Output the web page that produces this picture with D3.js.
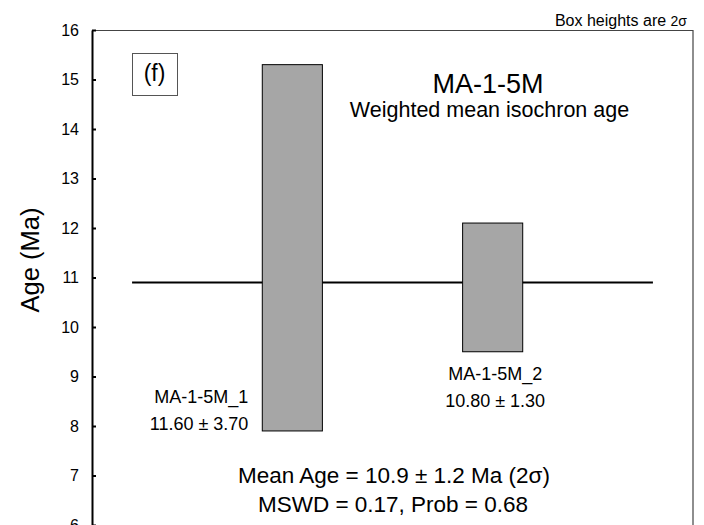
<!DOCTYPE html>
<html>
<head>
<meta charset="utf-8">
<script src="https://cdn.jsdelivr.net/npm/d3@7"></script>
<style>
  body { margin: 0; background: #fff; }
  text { font-family: Arial, "Liberation Sans", sans-serif; fill: #000; }
</style>
</head>
<body>
<div id="chart"></div>
<script>
// Data
var samples = ["MA-1-5M_1", "MA-1-5M_2"];
var ages = [11.60, 10.80];
var errors = [3.70, 1.30];      // 2 sigma, box half heights
var meanAge = 10.9;
var meanErr = 1.2;
var mswd = 0.17;
var prob = 0.68;
var yTicks = [6, 7, 8, 9, 10, 11, 12, 13, 14, 15, 16];

var svgWidth = 704;
var svgHeight = 525;

var margin = {
    top: 30,
    right: 11,
    bottom: 0,
    left: 92
};

var width = svgWidth - margin.left - margin.right;
var height = svgHeight - margin.top - margin.bottom;

var svg = d3.select("#chart")
  .append("svg")
  .attr("width", svgWidth)
  .attr("height", svgHeight);

var chartGroup = svg.append("g")
  .attr("transform", `translate(${margin.left}, ${margin.top})`);

// scales: boxes sit at x = 1, 2 on a 0..3 axis
var xScale = d3.scaleLinear().domain([0, 3]).range([0, width]);
var yScale = d3.scaleLinear().domain([6, 16]).range([height, 0]);
var boxW = xScale(0.3) - xScale(0);

// frame top + right
chartGroup.append("path")
  .attr("d", `M0,0.5H${width}V${height}`)
  .attr("fill", "none")
  .attr("stroke", "#444")
  .attr("stroke-width", 1.2);

// weighted mean line (drawn under the boxes)
chartGroup.append("line")
  .attr("x1", xScale(0.2))
  .attr("x2", xScale(2.8))
  .attr("y1", yScale(meanAge))
  .attr("y2", yScale(meanAge))
  .attr("stroke", "#000")
  .attr("stroke-width", 2);

// boxes
chartGroup.selectAll("rect.box")
  .data(samples)
  .enter()
  .append("rect")
  .attr("class", "box")
  .attr("x", (d, i) => xScale(i + 1) - boxW / 2)
  .attr("y", (d, i) => yScale(ages[i] + errors[i]))
  .attr("width", boxW)
  .attr("height", (d, i) => yScale(ages[i] - errors[i]) - yScale(ages[i] + errors[i]))
  .attr("fill", "#a6a6a6")
  .attr("stroke", "#000")
  .attr("stroke-width", 1);

// box labels
var labelLayout = [
  {anchor: "end", dx: -44, dy: -27.5},
  {anchor: "middle", dx: 2.5, dy: 28.5}
];
var fmt = d3.format(".2f");

var labels = chartGroup.selectAll("text.blab")
  .data(samples)
  .enter()
  .append("text")
  .attr("class", "blab")
  .attr("text-anchor", (d, i) => labelLayout[i].anchor)
  .attr("font-size", "18px");

labels.append("tspan")
  .attr("x", (d, i) => xScale(i + 1) + labelLayout[i].dx)
  .attr("y", (d, i) => yScale(ages[i] - errors[i]) + labelLayout[i].dy)
  .text(d => d);

labels.append("tspan")
  .attr("x", (d, i) => xScale(i + 1) + labelLayout[i].dx)
  .attr("y", (d, i) => yScale(ages[i] - errors[i]) + labelLayout[i].dy + 27)
  .text((d, i) => fmt(ages[i]) + " \u00b1 " + fmt(errors[i]));

// y axis
var leftAxis = d3.axisLeft(yScale)
  .tickValues(yTicks)
  .tickSize(-4)
  .tickSizeOuter(0)
  .tickPadding(13);

var yAxisG = chartGroup.append("g").call(leftAxis);
yAxisG.attr("font-family", null).attr("font-size", null);
yAxisG.select(".domain").attr("stroke", "#000").attr("stroke-width", 2);
yAxisG.selectAll(".tick line").attr("stroke", "#000").attr("stroke-width", 2);
yAxisG.selectAll(".tick text").attr("font-size", "16px").attr("fill", "#000");

// y axis title
svg.append("text")
  .attr("transform", "translate(38.5, 260) rotate(-90)")
  .attr("text-anchor", "middle")
  .attr("font-size", "25.5px")
  .text("Age (Ma)");

// panel tag
svg.append("rect")
  .attr("x", 132.5)
  .attr("y", 53.5)
  .attr("width", 45)
  .attr("height", 42)
  .attr("fill", "#fff")
  .attr("stroke", "#555")
  .attr("stroke-width", 1);

svg.append("text")
  .attr("x", 154.5)
  .attr("y", 81)
  .attr("text-anchor", "middle")
  .attr("font-size", "23px")
  .text("(f)");

// titles
svg.append("text")
  .attr("x", 488)
  .attr("y", 93)
  .attr("text-anchor", "middle")
  .attr("font-size", "27px")
  .text("MA-1-5M");

svg.append("text")
  .attr("x", 489.5)
  .attr("y", 117)
  .attr("text-anchor", "middle")
  .attr("font-size", "21.5px")
  .text("Weighted mean isochron age");

// note at top right
var note = svg.append("text")
  .attr("x", 687)
  .attr("y", 26)
  .attr("text-anchor", "end")
  .attr("font-size", "16px");
note.append("tspan").text("Box heights are ");
note.append("tspan").attr("font-size", "14px").text("2\u03c3");

// result text
svg.append("text")
  .attr("x", 394)
  .attr("y", 483)
  .attr("text-anchor", "middle")
  .attr("font-size", "22.5px")
  .text("Mean Age = " + meanAge + " \u00b1 " + meanErr + " Ma (2\u03c3)");

svg.append("text")
  .attr("x", 393)
  .attr("y", 512)
  .attr("text-anchor", "middle")
  .attr("font-size", "22.5px")
  .text("MSWD = " + mswd + ", Prob = " + prob);
</script>
</body>
</html>
